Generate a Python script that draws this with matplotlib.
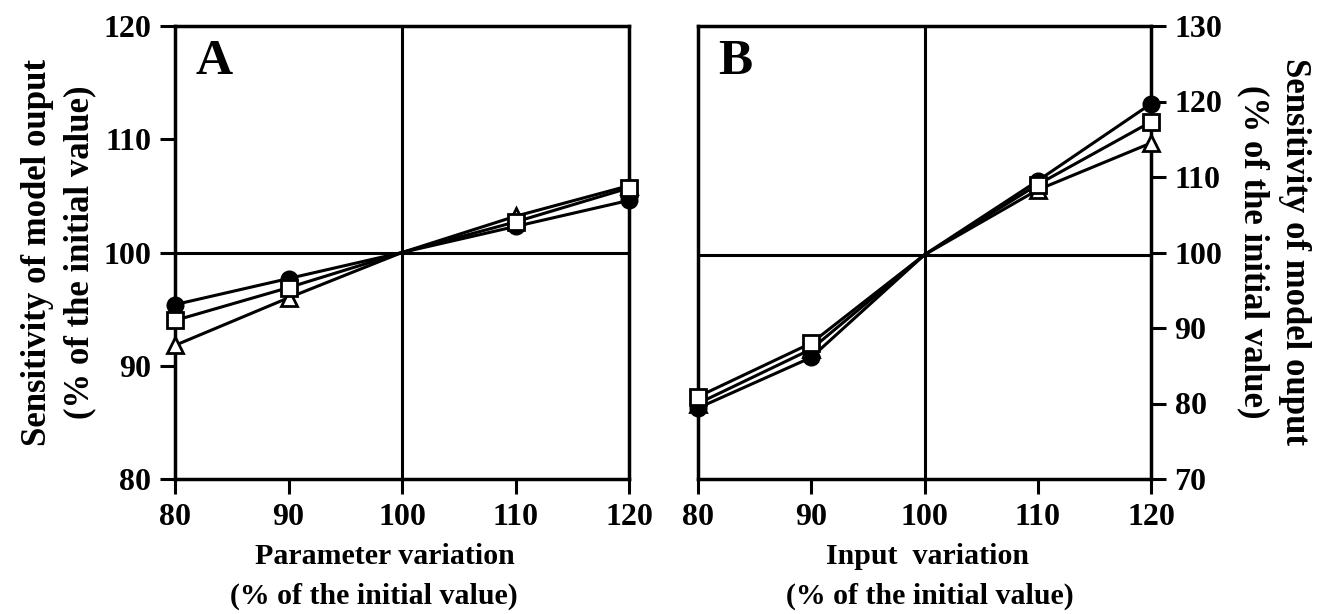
import matplotlib
matplotlib.use("Agg")
import matplotlib.pyplot as plt

plt.rcParams['font.family'] = ['Liberation Serif', 'DejaVu Serif']
plt.rcParams['font.weight'] = 'bold'

x_vals = [80, 90, 100, 110, 120]

# panel A - parameter variation
a_circle = [95.4, 97.7, 100.0, 102.3, 104.6]
a_square = [94.0, 96.9, 100.0, 102.7, 105.7]
a_triangle = [91.8, 96.0, 100.0, 103.2, 105.9]

# panel B - input variation
b_circle = [79.4, 86.1, 99.7, 109.5, 119.7]
b_square = [80.9, 88.0, 99.7, 109.0, 117.3]
b_triangle = [80.0, 87.2, 99.7, 108.3, 114.5]
b_ref = 99.7

A_YTICKS = [80, 90, 100, 110, 120]
B_YTICKS = [70, 80, 90, 100, 110, 120, 130]
XTICKS = [80, 90, 100, 110, 120]
MARKED = [0, 1, 3, 4]


def draw_series(ax, tri, circ, sq):
    kw = dict(color='black', lw=2.2, ms=11, mew=2, clip_on=False, markevery=MARKED)
    ax.plot(x_vals, tri, marker='^', mfc='white', mec='black', zorder=3, **kw)
    ax.plot(x_vals, circ, marker='o', mfc='black', mec='black', zorder=4, **kw)
    ax.plot(x_vals, sq, marker='s', mfc='white', mec='black', zorder=5, **kw)


def style_axes(ax, side):
    for s in ax.spines.values():
        s.set_linewidth(2.5)
    ax.set_xlim(80, 120)
    ax.set_xticks(XTICKS)
    ax.tick_params(axis='both', direction='out', length=11, width=2.2,
                   labelsize=23, pad=6)
    if side == 'right':
        ax.yaxis.tick_right()
    for lbl in ax.get_xticklabels() + ax.get_yticklabels():
        lbl.set_fontweight('bold')


fig = plt.figure(figsize=(13.22, 6.14), dpi=100)

axA = fig.add_axes([175 / 1322, 1 - 479 / 614, 454 / 1322, 453 / 614])
axA.axhline(100, color='black', lw=2.2, zorder=1)
axA.axvline(100, color='black', lw=2.2, zorder=1)
draw_series(axA, a_triangle, a_circle, a_square)
axA.set_ylim(80, 120)
axA.set_yticks(A_YTICKS)
style_axes(axA, 'left')
axA.text(0.045, 0.92, 'A', transform=axA.transAxes, fontsize=37,
         fontweight='bold', va='center', ha='left')

axB = fig.add_axes([698 / 1322, 1 - 479 / 614, 453 / 1322, 453 / 614])
axB.axhline(b_ref, color='black', lw=2.2, zorder=1)
axB.axvline(100, color='black', lw=2.2, zorder=1)
draw_series(axB, b_triangle, b_circle, b_square)
axB.set_ylim(70, 130)
axB.set_yticks(B_YTICKS)
style_axes(axB, 'right')
axB.text(0.045, 0.92, 'B', transform=axB.transAxes, fontsize=37,
         fontweight='bold', va='center', ha='left')

lab = dict(fontsize=21.5, fontweight='bold', ha='center', va='center')
fig.text(385 / 1322, 1 - 556 / 614, 'Parameter variation', **lab)
fig.text(374 / 1322, 1 - 596 / 614, '(% of the initial value)', **lab)
fig.text(928 / 1322, 1 - 556 / 614, 'Input  variation', **lab)
fig.text(930 / 1322, 1 - 596 / 614, '(% of the initial value)', **lab)

ylab = dict(fontsize=25, fontweight='bold', ha='center', va='center')
fig.text(38 / 1322, 1 - 252 / 614, 'Sensitivity of model ouput', rotation=90, **ylab)
fig.text(80 / 1322, 1 - 252 / 614, '(% of the initial value)', rotation=90, **ylab)
fig.text(1294 / 1322, 1 - 252 / 614, 'Sensitivity of model ouput', rotation=-90, **ylab)
fig.text(1253 / 1322, 1 - 252 / 614, '(% of the initial value)', rotation=-90, **ylab)

fig.savefig('out.png', dpi=100)
